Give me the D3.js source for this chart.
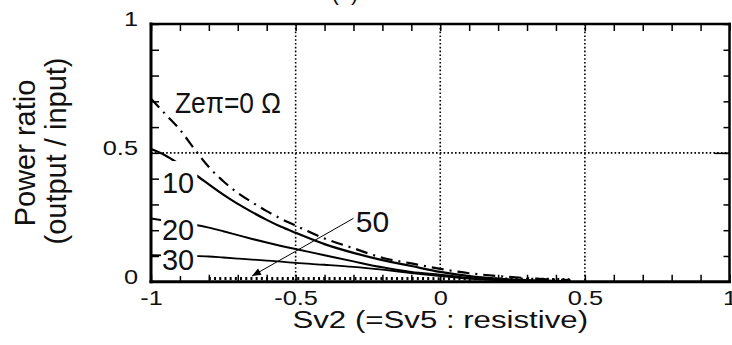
<!DOCTYPE html>
<html>
<head>
<meta charset="utf-8">
<script src="https://cdnjs.cloudflare.com/ajax/libs/d3/7.8.5/d3.min.js"></script>
<style>
  html, body { margin: 0; padding: 0; background: #fff; }
  svg { display: block; }
</style>
</head>
<body>
<svg id="chart" width="732" height="345"></svg>
<script>
// Sv2 values shared by every curve
const sv = [-1, -0.95, -0.9, -0.85, -0.8, -0.75, -0.7, -0.65, -0.6, -0.55, -0.5,
            -0.4, -0.3, -0.2, -0.1, 0, 0.1, 0.2, 0.3, 0.4, 0.45];

// power ratio for each Zeπ value
const ratio0  = [0.71, 0.65, 0.59, 0.515, 0.445, 0.39, 0.345, 0.308, 0.274, 0.244, 0.218,
                 0.168, 0.13, 0.093, 0.071, 0.05, 0.033, 0.022, 0.014, 0.008, 0.006];
const ratio10 = [0.515, 0.49, 0.455, 0.418, 0.378, 0.338, 0.302, 0.27, 0.24, 0.213, 0.19,
                 0.146, 0.112, 0.084, 0.061, 0.038, 0.022, 0.012, 0.006, 0.003, 0.002];
const ratio20 = [0.245, 0.237, 0.229, 0.221, 0.21, 0.196, 0.181, 0.166, 0.152, 0.139, 0.127,
                 0.103, 0.079, 0.056, 0.038, 0.027, 0.015, 0.008, 0.004, 0.002, 0.001];
const ratio30 = [0.103, 0.102, 0.101, 0.1, 0.098, 0.094, 0.09, 0.086, 0.082, 0.078, 0.073,
                 0.066, 0.058, 0.047, 0.034, 0.022, 0.012, 0.006, 0.003, 0.001, 0.001];
const ratio50 = [null, null, null, null, 0.013, 0.013, 0.013, 0.013, 0.013, 0.013, 0.013,
                 0.013, 0.013, 0.013, 0.013, 0.012, 0.012, 0.011, 0.01, 0.009, 0.008];

const xTicks = [-1, -0.5, 0, 0.5, 1];
const xTickLabels = ["-1", "-0.5", "0", "0.5", "1"];
const yTicks = [0, 0.5, 1];
const yTickLabels = ["0", "0.5", "1"];

const W = 732, H = 345;
const margin = { top: 24, right: 2.5, bottom: 63.25, left: 151 };
const font = "'Liberation Sans', Arial, Helvetica, sans-serif";

const svg = d3.select("#chart");
const x = d3.scaleLinear().domain([-1, 1]).range([margin.left, W - margin.right]);
const y = d3.scaleLinear().domain([0, 1]).range([H - margin.bottom, margin.top]);

const series = [
  { name: "0",  values: ratio0,  width: 2.2, dash: "12,6,2,6" },
  { name: "10", values: ratio10, width: 2.2, dash: null },
  { name: "20", values: ratio20, width: 2, dash: null },
  { name: "30", values: ratio30, width: 1.8, dash: null },
  { name: "50", values: ratio50, width: 3, dash: "2,3.2" }
];

const minor = d3.range(-10, 11).map(i => i / 10);
const minorY = d3.range(0, 11).map(i => i / 10);

// dotted grid
const grid = svg.append("g")
  .attr("stroke", "#000")
  .attr("stroke-width", 1.6)
  .attr("stroke-dasharray", "1.6,2.2");
grid.selectAll("line.v")
  .data([-0.5, 0, 0.5])
  .join("line")
  .attr("class", "v")
  .attr("x1", d => x(d)).attr("x2", d => x(d))
  .attr("y1", y(1)).attr("y2", y(0));
grid.append("line")
  .attr("x1", x(-1)).attr("x2", x(1))
  .attr("y1", y(0.5)).attr("y2", y(0.5));

// inward ticks on all four sides
function ticks(axis, tx, ty) {
  const g = svg.append("g").attr("transform", `translate(${tx},${ty})`).call(axis);
  g.select(".domain").remove();
  g.selectAll("line").attr("stroke-width", 1.5);
  return g;
}
ticks(d3.axisBottom(x).tickValues(minor).tickSize(-7).tickFormat(""), 0, y(0));
ticks(d3.axisTop(x).tickValues(minor).tickSize(-7).tickFormat(""), 0, y(1));
ticks(d3.axisLeft(y).tickValues(minorY).tickSize(-8).tickFormat(""), x(-1), 0);
ticks(d3.axisRight(y).tickValues(minorY).tickSize(-6).tickFormat(""), x(1), 0);
ticks(d3.axisRight(y).tickValues([0.5]).tickSize(-15).tickFormat(""), x(1), 0);

// curves
const line = d3.line()
  .defined(d => d[1] != null)
  .x(d => x(d[0]))
  .y(d => y(d[1]))
  .curve(d3.curveMonotoneX);

svg.append("g")
  .attr("fill", "none")
  .attr("stroke", "#000")
  .selectAll("path")
  .data(series)
  .join("path")
  .attr("stroke-width", d => d.width)
  .attr("stroke-dasharray", d => d.dash)
  .attr("d", d => line(sv.map((s, i) => [s, d.values[i]])));

// frame
const frame = svg.append("g").attr("stroke", "#000").attr("stroke-linecap", "square");
frame.append("line").attr("x1", x(-1)).attr("x2", x(1)).attr("y1", y(1)).attr("y2", y(1)).attr("stroke-width", 2.5);
frame.append("line").attr("x1", x(-1)).attr("x2", x(1)).attr("y1", y(0)).attr("y2", y(0)).attr("stroke-width", 3);
frame.append("line").attr("x1", x(-1)).attr("x2", x(-1)).attr("y1", y(0)).attr("y2", y(1)).attr("stroke-width", 3);
frame.append("line").attr("x1", x(1)).attr("x2", x(1)).attr("y1", y(0)).attr("y2", y(1)).attr("stroke-width", 2.5);

// tick labels
const sx = 1.3;
const xl = svg.append("g")
  .attr("transform", `translate(0,${y(0)})`)
  .call(d3.axisBottom(x).tickValues(xTicks).tickSize(0).tickPadding(9)
    .tickFormat((d, i) => xTickLabels[i]));
xl.select(".domain").remove();
xl.attr("font-family", font).attr("font-size", 19.5);
xl.selectAll("text").attr("fill", "#111").attr("transform", `scale(${sx},1)`);

const yl = svg.append("g")
  .attr("transform", `translate(${x(-1)},0)`)
  .call(d3.axisLeft(y).tickValues(yTicks).tickSize(0)
    .tickFormat((d, i) => yTickLabels[i]));
yl.select(".domain").remove();
yl.attr("font-family", font).attr("font-size", 19.5);
yl.selectAll("text").attr("fill", "#111").attr("x", -10).attr("dy", "0.1em")
  .attr("transform", `scale(${sx},1)`);

// axis titles
svg.append("text")
  .attr("font-family", font).attr("font-size", 24).attr("fill", "#111")
  .attr("text-anchor", "middle")
  .attr("transform", `translate(${x(0)},328) scale(1.3,1)`)
  .text("Sv2 (=Sv5 : resistive)");

const yt = svg.append("g")
  .attr("font-family", font).attr("font-size", 29).attr("fill", "#111")
  .attr("text-anchor", "middle");
yt.append("text").attr("transform", "translate(35,153) rotate(-90)").text("Power ratio");
yt.append("text").attr("transform", "translate(66,151) rotate(-90)").text("(output / input)");

// title, cut off at the top edge
svg.append("text")
  .attr("font-family", font).attr("font-size", 22).attr("fill", "#111")
  .attr("text-anchor", "middle")
  .attr("x", 345).attr("y", -0.5)
  .text("(a)");

// curve labels with white backing (top: extra cover above the glyphs)
const labels = [
  { text: "Zeπ=0 Ω", sv: -0.917, p: 0.655, size: 30, len: 106, top: -2 },
  { text: "10", sv: -0.962, p: 0.344, size: 29, top: 10 },
  { text: "20", sv: -0.962, p: 0.162, size: 29, top: 2 },
  { text: "30", sv: -0.962, p: 0.0456, size: 29, top: -2 },
  { text: "50", sv: -0.292, p: 0.193, size: 30, top: -2 }
];
const lg = svg.append("g").attr("font-family", font).attr("fill", "#111");
labels.forEach(l => {
  const g = lg.append("g");
  const t = g.append("text")
    .attr("x", x(l.sv)).attr("y", y(l.p))
    .attr("font-size", l.size)
    .text(l.text);
  if (l.len) t.attr("textLength", l.len).attr("lengthAdjust", "spacingAndGlyphs");
  const b = t.node().getBBox();
  g.insert("rect", "text")
    .attr("x", b.x - 1).attr("y", b.y + 4 - l.top)
    .attr("width", b.width + 4).attr("height", b.height - 4 + l.top)
    .attr("fill", "#fff");
});

// arrow from the "50" label down to its curve
const arrowFrom = [-0.30, 0.246];
const arrowTo = [-0.651, 0.022];
const ax1 = x(arrowFrom[0]), ay1 = y(arrowFrom[1]);
const ax2 = x(arrowTo[0]), ay2 = y(arrowTo[1]);
svg.append("line")
  .attr("x1", ax1).attr("y1", ay1).attr("x2", ax2).attr("y2", ay2)
  .attr("stroke", "#000").attr("stroke-width", 1);
const ang = Math.atan2(ay2 - ay1, ax2 - ax1);
const hl = 9, hw = 3.5;
const bx = ax2 - hl * Math.cos(ang), by = ay2 - hl * Math.sin(ang);
svg.append("path")
  .attr("d", `M${ax2},${ay2}L${bx - hw * Math.sin(ang)},${by + hw * Math.cos(ang)}L${bx + hw * Math.sin(ang)},${by - hw * Math.cos(ang)}Z`)
  .attr("fill", "#000");
</script>
</body>
</html>
